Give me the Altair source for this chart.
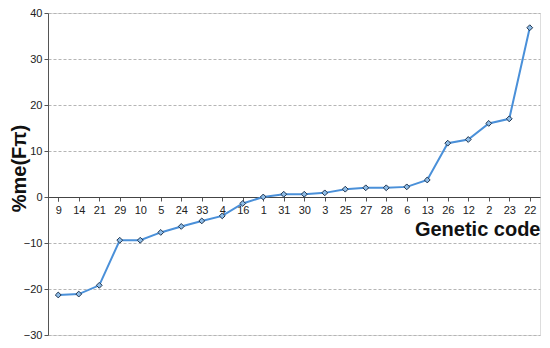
import altair as alt
import pandas as pd

codes = ["9", "14", "21", "29", "10", "5", "24", "33", "4", "16", "1", "31",
         "30", "3", "25", "27", "28", "6", "13", "26", "12", "2", "23", "22"]
values = [-21.3, -21.1, -19.2, -9.4, -9.4, -7.7, -6.4, -5.2, -4.1, -1.4, 0.0, 0.6,
          0.6, 0.9, 1.7, 2.0, 2.0, 2.2, 3.7, 11.7, 12.5, 16.0, 17.0, 36.8]
y_ticks = [-30, -20, -10, 0, 10, 20, 30, 40]

df = pd.DataFrame({"code": codes, "value": values})

W, H = 492, 322
font = "Liberation Sans"

x_enc = alt.X("code:N", sort=codes, scale=alt.Scale(type="point", padding=0.5),
              axis=alt.Axis(orient="bottom", offset=-30 / 70 * H, title="Genetic code",
                            labelAngle=0, labelFontSize=11, labelColor="#222222",
                            labelFont=font, labelPadding=3, tickBand="extent",
                            tickSize=4, tickColor="#555555", domainColor="#444444",
                            titleFont=font, titleFontSize=20, titleFontWeight="bold",
                            titleColor="#111111", titleX=W, titleY=32,
                            titleAlign="right", titleBaseline="middle", titleAnchor="end"))
y_enc = alt.Y("value:Q", scale=alt.Scale(domain=[-30, 40], nice=False),
              axis=alt.Axis(values=y_ticks, title="%me(F\u03c0)", labelFontSize=11,
                            labelFont=font, labelColor="#222222", labelPadding=2,
                            tickSize=4, tickColor="#555555", domainColor="#555555",
                            grid=True, gridColor="#b5b5b5", gridDash=[3, 2],
                            titleFont=font, titleFontSize=20, titleFontWeight="bold",
                            titleColor="#111111", titleAngle=-90, titleX=-29,
                            titleY=H / 2 - 6, titleAlign="center",
                            titleBaseline="middle"))

line = alt.Chart(df).mark_line(color="#4a90d9", strokeWidth=2).encode(x=x_enc, y=y_enc)
pts = alt.Chart(df).mark_point(shape="diamond", filled=True, size=34, fill="#8fbde8",
                               stroke="#1f3550", strokeWidth=1, opacity=1).encode(
    x=alt.X("code:N", sort=codes), y="value:Q")

chart = (line + pts).properties(
    width=W, height=H,
    autosize=alt.AutoSizeParams(type="none"),
    padding={"left": 40, "top": 5, "right": 2, "bottom": 5},
).configure_view(stroke=None).configure(background="white")

chart.save("out.html", embed_options={"renderer": "svg", "actions": False})
